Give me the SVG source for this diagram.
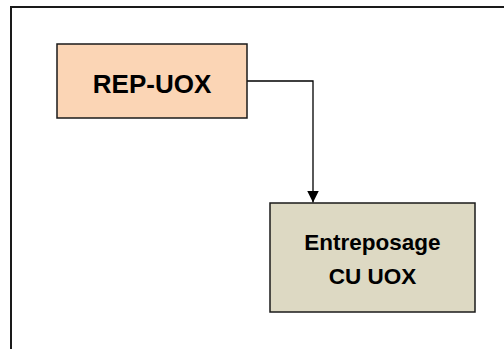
<svg xmlns="http://www.w3.org/2000/svg" width="504" height="349" viewBox="0 0 504 349">
  <defs>
    <style>
      .node { stroke: #1a1a1a; stroke-width: 1.5; }
      .label { font-family: "Liberation Sans", Arial, sans-serif; font-weight: bold; fill: #000; text-anchor: middle; }
      .edge { fill: none; stroke: #000; stroke-width: 1.3; }
    </style>
    <marker id="arrow" viewBox="0 0 12 12" refX="12" refY="6" markerWidth="12" markerHeight="12" markerUnits="userSpaceOnUse" orient="auto">
      <path d="M0,0 L12,6 L0,12 Z" fill="#000"/>
    </marker>
  </defs>
  <rect width="504" height="349" fill="#fff"/>
  <!-- outer frame, running past the right and bottom edges -->
  <rect x="11" y="7" width="600" height="400" fill="none" stroke="#1a1a1a" stroke-width="2"/>
  <g id="connectors">
    <path class="edge" d="M247,81 H313 V202.5" marker-end="url(#arrow)"/>
  </g>
  <g id="rep-uox">
    <rect class="node" x="57" y="44" width="190" height="74" fill="#FBD5B5"/>
    <text class="label" x="152" y="93" font-size="26">REP-UOX</text>
  </g>
  <g id="entreposage">
    <rect class="node" x="270" y="203" width="205" height="109" fill="#DDD9C3"/>
    <text class="label" x="372.5" y="250" font-size="22.5">Entreposage</text>
    <text class="label" x="372.5" y="284" font-size="22.5">CU UOX</text>
  </g>
</svg>
